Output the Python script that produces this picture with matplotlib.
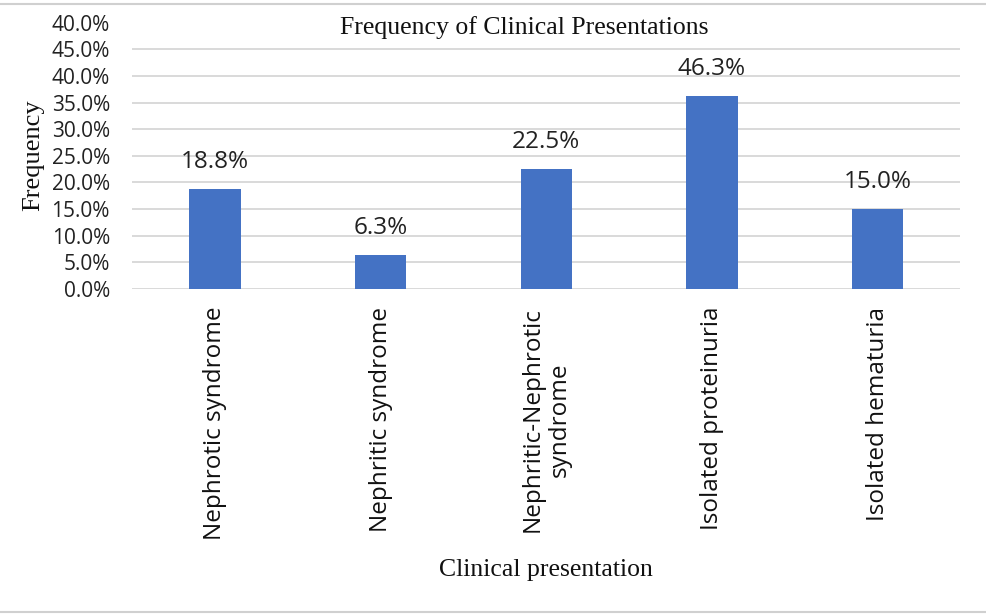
import matplotlib
matplotlib.use("Agg")
import matplotlib.pyplot as plt
from matplotlib.lines import Line2D

categories = ["Nephrotic syndrome", "Nephritic syndrome", "Nephritic-Nephrotic\nsyndrome",
              "Isolated proteinuria", "Isolated hematuria"]
# bar heights as drawn (the proteinuria bar is drawn at ~36% though labelled 46.3%)
heights = [18.8, 6.3, 22.5, 36.2, 15.0]
value_labels = ["18.8%", "6.3%", "22.5%", "46.3%", "15.0%"]
yticks = [0, 5, 10, 15, 20, 25, 30, 35, 40, 45, 50]
ytick_labels = ["0.0%", "5.0%", "10.0%", "15.0%", "20.0%", "25.0%", "30.0%",
                "35.0%", "40.0%", "45.0%", "40.0%"]

sans = ["Open Sans", "DejaVu Sans"]
serif = ["Liberation Serif", "DejaVu Serif"]

fig = plt.figure(figsize=(9.86, 6.16), dpi=100)
ax = fig.add_axes([0.134, 0.531, 0.84, 0.432])

x = range(len(categories))
ax.bar(x, heights, width=0.31, color="#4472C4", zorder=3)
for i, h in enumerate(heights):
    ax.annotate(value_labels[i], (i, h), xytext=(0, 11), textcoords="offset points",
                ha="center", va="bottom", fontsize=17.5, family=sans, color="#222222")

ax.set_xlim(-0.5, len(categories) - 0.5)
ax.set_ylim(0, 50)
ax.set_yticks(yticks)
ax.set_yticklabels(ytick_labels, family=sans, fontsize=15, color="#222222")
ax.set_xticks(list(x))
ax.set_xticklabels(categories, rotation=90, family=sans, fontsize=17.5,
                   color="#111111", va="top", ha="center", multialignment="center")
ax.tick_params(axis="both", length=0)
ax.tick_params(axis="x", pad=13)
ax.tick_params(axis="y", pad=16)
ax.grid(axis="y", color="#d9d9d9", linewidth=1.4, zorder=0)
ax.yaxis.get_gridlines()[-1].set_visible(False)
for s in ax.spines.values():
    s.set_visible(False)

fig.text(0.532, 0.955, "Frequency of Clinical Presentations", family=serif, fontsize=18.5,
         ha="center", va="center", color="#111111")
fig.text(0.034, 0.748, "Frequency", rotation=90, family=serif, fontsize=19,
         ha="center", va="center", color="#111111")
fig.text(0.554, 0.074, "Clinical presentation", family=serif, fontsize=18.5,
         ha="center", va="center", color="#111111")

fig.add_artist(Line2D([0, 1], [0.993, 0.993], color="#d0d0d0", linewidth=1.5))
fig.add_artist(Line2D([0, 1], [0.006, 0.006], color="#d0d0d0", linewidth=1.5))

fig.savefig("out.png", dpi=100)
